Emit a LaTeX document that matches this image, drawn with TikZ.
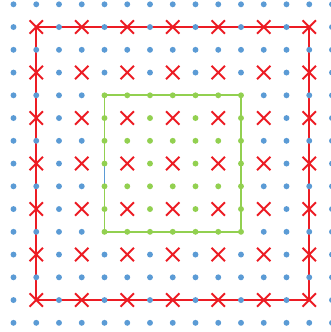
\documentclass[tikz,border=0pt]{standalone}
\usetikzlibrary{shapes.misc}
\definecolor{dotblue}{RGB}{91,155,213}
\definecolor{dotgreen}{RGB}{146,208,80}
\definecolor{crossred}{RGB}{236,28,36}

\begin{document}
\begin{tikzpicture}[
  x=1cm, y=-1cm,
  bluedot/.style={circle, fill=dotblue, inner sep=0pt, minimum size=2.6mm},
  greendot/.style={circle, fill=dotgreen, inner sep=0pt, minimum size=2.6mm},
  xmark/.style={cross out, draw=crossred, line width=2.5pt, inner sep=0pt, minimum size=5mm},
  outerbox/.style={draw=crossred, line width=2.8pt},
  innerbox/.style={draw=dotgreen, line width=2.3pt},
  innerseg/.style={draw=dotblue, line width=2.3pt},
]
\useasboundingbox (-0.593,-0.189) rectangle (13.912,14.404);

% Corners of the two squares
\coordinate (r-nw) at (1,1);
\coordinate (r-se) at (13,13);
\coordinate (g-nw) at (4,4);
\coordinate (g-se) at (10,10);
\coordinate (g-a) at (4,7);
\coordinate (g-b) at (4,8);

% Squares
\draw[outerbox] (r-nw) rectangle (r-se);
\draw[innerbox] (g-nw) rectangle (g-se);
\draw[innerseg] (g-a) -- (g-b);

% Grid of dots
\foreach \i in {0,...,14} {
  \foreach \j in {0,...,14} {
    \pgfmathtruncatemacro\ingreen{(\i>3)&&(\i<11)&&(\j>3)&&(\j<11)}
    \pgfmathtruncatemacro\iscross{(mod(\i,2)==1)&&(mod(\j,2)==1)&&(\i<14)&&(\j<14)}
    \ifnum\iscross=0
      \ifnum\ingreen=1
        \node[greendot] (d-\i-\j) at (\i,\j) {};
      \else
        \node[bluedot] (d-\i-\j) at (\i,\j) {};
      \fi
    \fi
  }
}

% Crosses
\foreach \i in {1,3,...,13} {
  \foreach \j in {1,3,...,13} {
    \node[xmark] (x-\i-\j) at (\i,\j) {};
  }
}

\end{tikzpicture}
\end{document}
